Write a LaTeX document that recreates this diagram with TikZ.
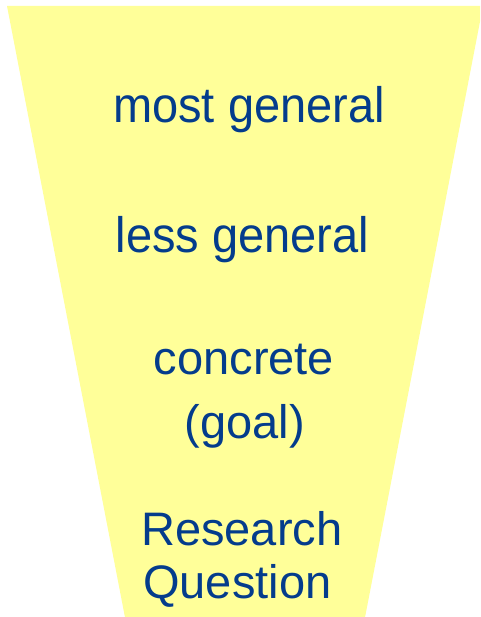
\documentclass[tikz,border=0pt]{standalone}
\usepackage{fontspec}
\setmainfont{Liberation Sans}
\definecolor{funnelfill}{RGB}{255,255,153}
\definecolor{labelblue}{RGB}{4,60,140}
\tikzset{
  lbl/.style={anchor=base, inner sep=0pt, text=labelblue, font=\fontsize{47}{56}\selectfont},
  tall/.style={yscale=1.06, transform shape},
}
\begin{document}
\begin{tikzpicture}[x=1pt,y=-1pt]
\useasboundingbox (0,0) rectangle (480,617);
\clip (0,0) rectangle (480,617);
\fill[funnelfill] (7,6) -- (483,6) -- (364.5,620) -- (125.5,620) -- cycle;
\node[lbl,tall] (l1) at (249,122.5) {most general};
\node[lbl,tall] (l2) at (242.5,252.5) {less general};
\node[lbl] (l3) at (244,374.5) {concrete};
\node[lbl] (l4) at (245,438) {(goal)};
\node[lbl,anchor=base west] (l5) at (141,545) {Research};
\node[lbl,anchor=base west] (l6) at (143,598) {Question};
\end{tikzpicture}
\end{document}
